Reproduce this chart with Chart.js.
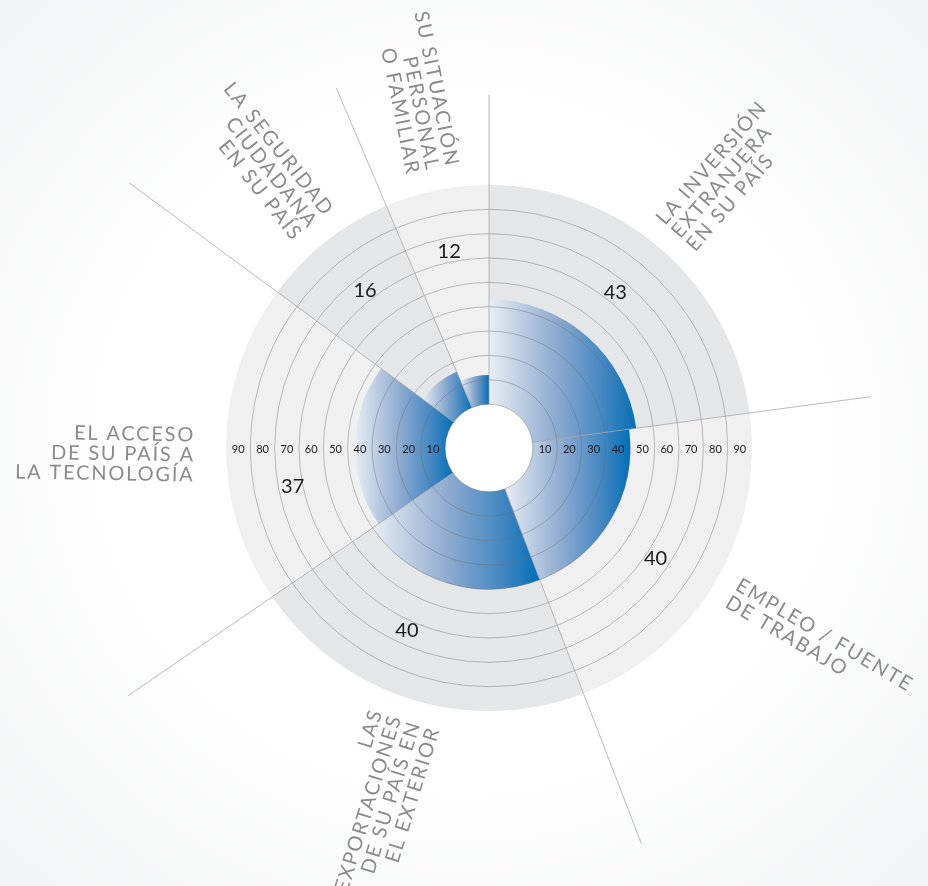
<!DOCTYPE html>
<html>
<head>
<meta charset="utf-8">
<script src="https://cdn.jsdelivr.net/npm/chart.js@4/dist/chart.umd.min.js"></script>
<style>
  html, body { margin: 0; padding: 0; }
  body {
    width: 928px; height: 886px; overflow: hidden;
    background: radial-gradient(ellipse at 50% 50%, #ffffff 55%, #f2f3f4 100%);
  }
  canvas { display: block; }
</style>
</head>
<body>
<canvas id="grafico" width="928" height="886"></canvas>
<script>
/* Datos del gráfico */
const categorias = [
  ['LA INVERSIÓN', 'EXTRANJERA', 'EN SU PAÍS'],
  ['EMPLEO / FUENTE', 'DE TRABAJO'],
  ['LAS', 'EXPORTACIONES', 'DE SU PAÍS EN', 'EL EXTERIOR'],
  ['EL ACCESO', 'DE SU PAÍS A', 'LA TECNOLOGÍA'],
  ['LA SEGURIDAD', 'CIUDADANA', 'EN SU PAÍS'],
  ['SU SITUACIÓN', 'PERSONAL', 'O FAMILIAR']
];
const valores = [43, 40, 40, 37, 16, 12];
const marcas = [10, 20, 30, 40, 50, 60, 70, 80, 90];

/* Estilo */
const fondos = ['#e5e6e8', '#f0f0f1'];
const largoSeparador = [353, 385, 424, 438, 447, 391]; // px desde el centro
const radioTexto = 283;   // px, inicio de las etiquetas de categoría
const radioValor = 200;   // px, números dentro del gráfico
const ajusteValor = [-2, 3, 7, -12, 0, 0]; // grados
const ajusteTexto = [[0, 0], [0, 0], [0, 0], [11, 12], [0, 0], [0, 0]]; // px: radial, perpendicular
const grisTexto = '#8b8b8d';

const total = valores.reduce((a, b) => a + b, 0);
const grados = valores.map(v => v / total * 360);
const inicios = grados.map((g, i) => grados.slice(0, i).reduce((a, b) => a + b, 0));

const rad = deg => (deg - 90) * Math.PI / 180; // 0 = arriba, sentido horario

/* Degradado horizontal de cada sector */
function degradado(context) {
  const chart = context.chart;
  const scale = chart.scales.r;
  const i = context.dataIndex;
  if (!scale || !scale.drawingArea || i === undefined) return '#0070b8';
  const r0 = scale.getDistanceFromCenterForValue(0);
  const r1 = scale.getDistanceFromCenterForValue(valores[i]);
  let min = Infinity, max = -Infinity;
  for (let k = 0; k <= 60; k++) {
    const a = rad(inicios[i] + grados[i] * k / 60);
    [r0, r1].forEach(r => {
      const x = scale.xCenter + r * Math.cos(a);
      min = Math.min(min, x); max = Math.max(max, x);
    });
  }
  const g = chart.ctx.createLinearGradient(min, 0, max, 0);
  g.addColorStop(0, '#e8edf3');
  g.addColorStop(0.45, '#8eabd0');
  g.addColorStop(0.8, '#3d84c0');
  g.addColorStop(1, '#0070b8');
  return g;
}

const decorado = {
  id: 'decorado',
  beforeDatasetsDraw(chart) {
    const { ctx } = chart;
    const s = chart.scales.r;
    const R = s.getDistanceFromCenterForValue(marcas[marcas.length - 1]);
    ctx.save();
    valores.forEach((v, i) => {
      ctx.fillStyle = fondos[i % 2];
      ctx.beginPath();
      ctx.moveTo(s.xCenter, s.yCenter);
      ctx.arc(s.xCenter, s.yCenter, R, rad(inicios[i]), rad(inicios[i] + grados[i]));
      ctx.closePath();
      ctx.fill();
    });
    ctx.restore();
  },
  afterDatasetsDraw(chart) {
    const { ctx } = chart;
    const s = chart.scales.r;
    ctx.save();
    ctx.fillStyle = '#ffffff';
    ctx.beginPath();
    ctx.arc(s.xCenter, s.yCenter, s.getDistanceFromCenterForValue(0), 0, Math.PI * 2);
    ctx.fill();
    ctx.restore();
  },
  afterDraw(chart) {
    const { ctx } = chart;
    const s = chart.scales.r;
    const cx = s.xCenter, cy = s.yCenter;
    const r0 = s.getDistanceFromCenterForValue(0);
    ctx.save();

    // separadores
    ctx.strokeStyle = '#9c9c9c';
    ctx.lineWidth = 0.7;
    inicios.forEach((a0, i) => {
      const a = rad(a0);
      ctx.beginPath();
      ctx.moveTo(cx + r0 * Math.cos(a), cy + r0 * Math.sin(a));
      ctx.lineTo(cx + largoSeparador[i] * Math.cos(a), cy + largoSeparador[i] * Math.sin(a));
      ctx.stroke();
    });

    // marcas del eje, a ambos lados
    ctx.fillStyle = '#1a1a1a';
    ctx.font = "11px 'Lato', sans-serif";
    ctx.textAlign = 'center';
    ctx.textBaseline = 'middle';
    marcas.forEach(m => {
      const d = s.getDistanceFromCenterForValue(m - 5);
      ctx.fillText(String(m), cx + d, cy + 1);
      ctx.fillText(String(m), cx - d, cy + 1);
    });

    // valores
    ctx.font = "20px 'Lato', sans-serif";
    valores.forEach((v, i) => {
      const a = rad(inicios[i] + grados[i] / 2 + ajusteValor[i]);
      ctx.fillText(String(v), cx + radioValor * Math.cos(a), cy + radioValor * Math.sin(a));
    });

    // categorías
    ctx.fillStyle = grisTexto;
    ctx.font = "20px 'Lato', sans-serif";
    if ('letterSpacing' in ctx) ctx.letterSpacing = '1.8px';
    const alto = 20;
    categorias.forEach((lineas, i) => {
      const medio = inicios[i] + grados[i] / 2;
      const a = rad(medio);
      const izquierda = medio > 180;
      const r = radioTexto + ajusteTexto[i][0];
      ctx.save();
      ctx.translate(cx + r * Math.cos(a), cy + r * Math.sin(a));
      ctx.rotate(izquierda ? a + Math.PI : a);
      ctx.textAlign = izquierda ? 'right' : 'left';
      ctx.textBaseline = 'middle';
      lineas.forEach((t, k) => {
        ctx.fillText(t, 0, (k - (lineas.length - 1) / 2) * alto + ajusteTexto[i][1]);
      });
      ctx.restore();
    });
    ctx.restore();
  }
};

new Chart(document.getElementById('grafico'), {
  type: 'polarArea',
  data: {
    labels: categorias.map(l => l.join(' ')),
    datasets: [{
      data: valores,
      backgroundColor: degradado,
      borderWidth: 0,
      angle: ctx => grados[ctx.dataIndex]
    }]
  },
  options: {
    responsive: false,
    animation: false,
    devicePixelRatio: 1,
    layout: { padding: { left: 226, right: 176, top: 185, bottom: 175 } },
    plugins: { legend: { display: false }, tooltip: { enabled: false } },
    scales: {
      r: {
        min: -18,
        max: 90,
        startAngle: 0,
        ticks: { display: false, stepSize: 10 },
        afterBuildTicks: scale => {
          scale.ticks = scale.ticks.filter(t => t.value >= 0);
        },
        grid: {
          z: 1,
          circular: true,
          lineWidth: 0.8,
          color: ctx => (ctx.tick && ctx.tick.value === 90) ? 'rgba(0,0,0,0)' : 'rgba(110,110,110,0.55)'
        },
        angleLines: { display: false },
        pointLabels: { display: false }
      }
    }
  },
  plugins: [decorado]
});
</script>
</body>
</html>
